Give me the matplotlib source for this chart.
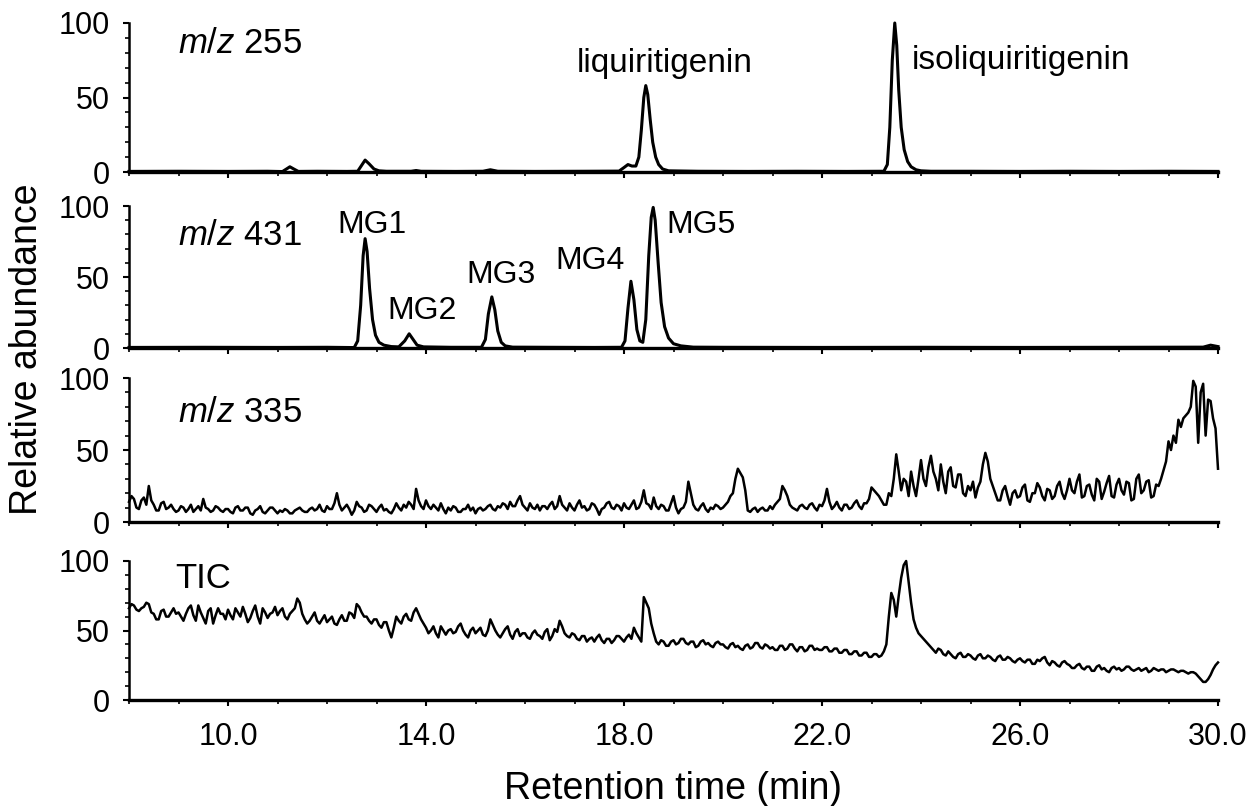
import numpy as np
import matplotlib.pyplot as plt
from matplotlib.ticker import MultipleLocator

plt.rcParams['font.family'] = 'Liberation Sans'
plt.rcParams['mathtext.fontset'] = 'custom'
plt.rcParams['mathtext.rm'] = 'Liberation Sans'
plt.rcParams['mathtext.it'] = 'Liberation Sans:italic'

# m/z 255 extracted ion chromatogram
time_255 = [8.0, 9.0, 10.0, 10.8, 11.1, 11.18, 11.25, 11.33, 11.42, 11.8, 12.4,
            12.62, 12.7, 12.77, 12.85, 12.95, 13.05, 13.2, 13.7, 13.8, 13.9, 14.6,
            15.15, 15.3, 15.45, 16.2, 17.2, 17.9,
            18.0, 18.08, 18.16, 18.24, 18.3, 18.35, 18.4, 18.44, 18.48, 18.53, 18.58,
            18.64, 18.7, 18.78, 18.9, 19.5, 20.5, 21.5, 22.5,
            23.25, 23.32, 23.37, 23.42, 23.47, 23.51, 23.55, 23.6, 23.66, 23.73, 23.8,
            23.9, 24.0, 24.2, 25.0, 26.0, 27.0, 28.0, 29.0, 30.0]
abund_255 = [0.4, 0.5, 0.4, 0.5, 0.3, 2, 3.5, 2, 0.4, 0.5, 0.4,
             0.5, 4.5, 8, 5.5, 2, 0.8, 0.5, 0.5, 1, 0.5, 0.4,
             0.5, 1.5, 0.5, 0.4, 0.5, 0.6,
             3, 5, 4, 4, 10, 28, 50, 58, 52, 35, 20,
             10, 5, 2, 0.8, 0.5, 0.4, 0.5, 0.4,
             0.5, 5, 30, 75, 100, 85, 55, 30, 15, 7, 3.5,
             1.5, 0.8, 0.5, 0.5, 0.4, 0.5, 0.4, 0.5, 0.4]

# m/z 431 extracted ion chromatogram (MG1 - MG5)
time_431 = [8.0, 9.5, 11.0, 12.0,
            12.55, 12.62, 12.68, 12.73, 12.77, 12.81, 12.86, 12.92, 12.98, 13.05, 13.15, 13.3, 13.45,
            13.57, 13.66, 13.74, 13.82, 13.95, 14.5,
            15.12, 15.2, 15.26, 15.33, 15.39, 15.45, 15.52, 15.6, 15.75, 16.5, 17.4,
            17.95, 18.02, 18.08, 18.14, 18.2, 18.26, 18.32, 18.38, 18.44, 18.5, 18.55, 18.59,
            18.63, 18.69, 18.75, 18.82, 18.9, 19.0, 19.15, 19.4,
            20.0, 22.0, 24.0, 26.0, 28.0, 29.7, 29.85, 30.0]
abund_431 = [0.4, 0.5, 0.4, 0.5,
             0.3, 5, 30, 65, 77, 68, 42, 20, 9, 4, 2, 1, 0.8,
             5, 10, 6, 2, 0.8, 0.5,
             0.5, 6, 24, 36, 27, 12, 4, 1.5, 0.6, 0.5, 0.4,
             0.5, 5, 28, 47, 34, 13, 5, 4, 20, 65, 92, 99,
             90, 60, 32, 15, 7, 3, 1.5, 0.6,
             0.5, 0.4, 0.5, 0.4, 0.5, 0.6, 2, 1]

# scan grid for the noisy traces, 0.05 min steps from 8.0 to 30.0
scan_time = np.round(np.arange(8.0, 30.025, 0.05), 2)

# one row per minute (20 scans)
abund_335 = [
    14, 18, 16, 10, 9, 15, 17, 12, 25, 15, 12, 8, 8, 13, 14, 9, 10, 12, 9, 7,          # 8
    8, 11, 10, 7, 9, 12, 7, 9, 11, 8, 16, 10, 9, 7, 8, 11, 10, 8, 7, 9,               # 9
    9, 7, 6, 10, 11, 8, 8, 10, 10, 6, 5, 8, 9, 11, 7, 6, 8, 10, 10, 8,                # 10
    6, 8, 7, 9, 8, 6, 6, 8, 9, 10, 8, 7, 7, 9, 10, 8, 9, 12, 8, 7,                    # 11
    11, 9, 9, 13, 20, 12, 8, 10, 12, 9, 5, 8, 14, 11, 10, 7, 8, 12, 11, 9,            # 12
    7, 10, 12, 8, 9, 7, 6, 9, 13, 10, 8, 12, 10, 14, 12, 9, 23, 15, 11, 9,            # 13
    15, 11, 9, 12, 10, 8, 13, 9, 6, 10, 8, 11, 10, 7, 7, 9, 9, 12, 8, 10,             # 14
    6, 9, 10, 8, 9, 11, 12, 9, 8, 11, 10, 13, 12, 9, 14, 11, 11, 15, 18, 12,          # 15
    10, 8, 13, 10, 9, 12, 8, 11, 11, 9, 12, 14, 9, 11, 18, 12, 10, 8, 13, 10,         # 16
    8, 12, 15, 10, 11, 8, 9, 13, 12, 9, 5, 9, 10, 13, 14, 10, 9, 12, 11, 8,           # 17
    13, 10, 9, 12, 15, 9, 10, 14, 22, 13, 12, 9, 17, 11, 9, 12, 11, 8, 8, 13,         # 18
    18, 10, 6, 9, 10, 14, 28, 20, 12, 9, 8, 11, 13, 9, 7, 10, 9, 12, 11, 9,           # 19
    10, 12, 14, 18, 20, 30, 37, 34, 31, 22, 8, 7, 9, 10, 7, 9, 10, 8, 8, 11,          # 20
    9, 12, 14, 16, 25, 22, 18, 12, 10, 9, 8, 11, 12, 10, 9, 12, 13, 10, 8, 12,        # 21
    11, 15, 23, 14, 9, 11, 14, 10, 8, 12, 12, 9, 10, 13, 15, 11, 9, 13, 13, 16,       # 22
    24, 22, 20, 18, 15, 12, 12, 20, 18, 30, 47, 35, 22, 30, 28, 18, 35, 25, 18, 30,   # 23
    43, 30, 25, 38, 46, 35, 30, 22, 40, 28, 20, 35, 38, 25, 24, 33, 33, 20, 18, 25,   # 24
    22, 28, 17, 24, 28, 40, 48, 42, 30, 25, 20, 15, 15, 22, 25, 18, 12, 20, 22, 17,   # 25
    18, 24, 26, 15, 14, 20, 20, 27, 24, 18, 15, 23, 22, 16, 18, 25, 28, 20, 16, 22,   # 26
    30, 22, 20, 28, 33, 17, 18, 25, 26, 19, 15, 30, 28, 16, 21, 27, 32, 18, 17, 26,   # 27
    30, 22, 19, 28, 27, 15, 16, 30, 33, 20, 22, 28, 29, 17, 18, 26, 25, 30, 36, 42,   # 28
    56, 50, 60, 55, 71, 66, 72, 74, 76, 80, 98, 94, 55, 90, 96, 60, 85, 84, 72, 65,   # 29
    37]

abund_tic = [
    66, 69, 68, 65, 64, 66, 67, 70, 69, 63, 62, 58, 58, 64, 65, 60, 60, 63, 66, 62,   # 8
    63, 60, 57, 62, 66, 68, 61, 57, 68, 63, 59, 55, 64, 66, 55, 61, 66, 62, 62, 58,   # 9
    65, 61, 58, 66, 63, 60, 67, 62, 56, 59, 64, 68, 60, 55, 66, 63, 59, 62, 63, 67,   # 10
    61, 64, 66, 60, 58, 62, 64, 66, 73, 70, 62, 58, 55, 57, 60, 63, 57, 55, 58, 61,   # 11
    56, 58, 60, 55, 54, 58, 61, 57, 57, 63, 62, 59, 69, 67, 63, 60, 60, 57, 55, 58,   # 12
    58, 54, 52, 56, 56, 50, 45, 52, 60, 57, 55, 60, 62, 58, 57, 63, 66, 62, 58, 55,   # 13
    52, 48, 50, 53, 48, 45, 53, 50, 47, 50, 51, 48, 49, 53, 55, 50, 47, 45, 50, 52,   # 14
    48, 50, 52, 47, 46, 50, 58, 54, 50, 47, 45, 48, 51, 53, 47, 44, 49, 51, 46, 48,   # 15
    48, 45, 44, 48, 50, 47, 46, 44, 49, 51, 43, 46, 51, 49, 57, 53, 48, 46, 45, 48,   # 16
    47, 44, 43, 46, 46, 42, 44, 45, 42, 45, 47, 43, 41, 44, 44, 41, 43, 46, 46, 44,   # 17
    42, 45, 47, 44, 52, 48, 45, 42, 74, 70, 66, 55, 48, 42, 40, 43, 42, 39, 39, 42,   # 18
    43, 40, 41, 44, 44, 41, 40, 42, 42, 38, 39, 42, 43, 40, 41, 39, 38, 41, 42, 40,   # 19
    40, 38, 37, 40, 41, 38, 39, 37, 36, 39, 40, 37, 38, 41, 41, 38, 37, 40, 39, 37,   # 20
    38, 36, 36, 39, 39, 36, 37, 40, 40, 37, 35, 38, 38, 35, 36, 39, 39, 36, 37, 36,   # 21
    36, 38, 38, 35, 35, 37, 37, 34, 34, 36, 36, 33, 33, 35, 35, 32, 32, 34, 34, 31,   # 22
    31, 33, 33, 31, 32, 35, 40, 60, 77, 72, 60, 75, 88, 97, 100, 85, 70, 58, 52, 48,  # 23
    46, 44, 42, 40, 38, 36, 34, 37, 36, 33, 32, 35, 33, 31, 30, 33, 34, 31, 31, 33,   # 24
    32, 30, 29, 32, 33, 30, 30, 32, 31, 29, 28, 31, 32, 29, 29, 31, 30, 28, 27, 29,   # 25
    30, 28, 27, 29, 29, 26, 26, 29, 28, 30, 31, 27, 25, 28, 27, 25, 24, 27, 28, 26,   # 26
    25, 23, 23, 25, 26, 23, 22, 24, 24, 21, 21, 24, 25, 22, 23, 21, 20, 23, 24, 22,   # 27
    23, 21, 22, 24, 24, 22, 21, 22, 23, 21, 22, 23, 20, 21, 23, 22, 21, 22, 22, 20,   # 28
    21, 22, 22, 21, 20, 21, 21, 20, 19, 20, 20, 19, 17, 15, 13, 13, 15, 18, 22, 25,   # 29
    27]

x_ticks = [10, 14, 18, 22, 26, 30]

# panel rectangles in figure pixels: (top, bottom)
panel_px = [(23, 172), (206, 348), (378, 522), (561, 700)]
left_px, right_px = 129, 1218
W, H = 1249, 806


def style_panel(ax, show_xlabels):
    ax.set_xlim(8, 30)
    ax.set_ylim(0, 100)
    for side in ['top', 'right']:
        ax.spines[side].set_visible(False)
    ax.spines['bottom'].set_linewidth(2.4)
    ax.spines['left'].set_linewidth(1.8)
    ax.set_xticks(x_ticks)
    ax.xaxis.set_minor_locator(MultipleLocator(1))
    ax.set_yticks([0, 50, 100])
    ax.yaxis.set_minor_locator(MultipleLocator(10))
    ax.tick_params(axis='both', which='major', direction='out', length=4, width=1.5,
                   labelsize=22)
    ax.tick_params(axis='both', which='minor', direction='out', length=3, width=1.2)
    ax.tick_params(axis='y', pad=9.5)
    ax.tick_params(axis='x', pad=12)
    if show_xlabels:
        ax.set_xticklabels([f'{v:.1f}' for v in x_ticks])
    else:
        ax.set_xticklabels([])


fig = plt.figure(figsize=(W / 100, H / 100), dpi=100)
axes = []
for i, (top, bot) in enumerate(panel_px):
    ax = fig.add_axes([left_px / W, 1 - bot / H, (right_px - left_px) / W, (bot - top) / H])
    style_panel(ax, i == 3)
    axes.append(ax)

ax1, ax2, ax3, ax4 = axes
ax1.plot(time_255, abund_255, color='black', lw=2.2, clip_on=False)
ax2.plot(time_431, abund_431, color='black', lw=2.2, clip_on=False)
ax3.plot(scan_time, abund_335, color='black', lw=1.8, clip_on=False)
ax4.plot(scan_time, abund_tic, color='black', lw=1.8, clip_on=False)

title_fs = 25
ax1.text(8.99, 80, r'$\it{m/z}$ 255', fontsize=title_fs, va='baseline')
ax2.text(8.99, 72.5, r'$\it{m/z}$ 431', fontsize=title_fs, va='baseline')
ax3.text(8.99, 69.5, r'$\it{m/z}$ 335', fontsize=title_fs, va='baseline')
ax4.text(8.93, 80.5, 'TIC', fontsize=title_fs, va='baseline')

ax1.text(18.83, 67, 'liquiritigenin', fontsize=24, va='baseline', ha='center')
ax1.text(23.82, 69, 'isoliquiritigenin', fontsize=24, va='baseline', ha='left')

mg_fs = 23
ax2.text(12.91, 81, 'MG1', fontsize=mg_fs, va='baseline', ha='center')
ax2.text(13.92, 20.5, 'MG2', fontsize=mg_fs, va='baseline', ha='center')
ax2.text(15.52, 46, 'MG3', fontsize=mg_fs, va='baseline', ha='center')
ax2.text(17.31, 55.5, 'MG4', fontsize=mg_fs, va='baseline', ha='center')
ax2.text(19.56, 81, 'MG5', fontsize=mg_fs, va='baseline', ha='center')

fig.text(27 / W, 1 - 349 / H, 'Relative abundance', rotation=90, fontsize=27,
         ha='center', va='center')
fig.text((left_px + right_px) / 2 / W, 1 - 799 / H, 'Retention time (min)', fontsize=27,
         ha='center', va='baseline')

fig.savefig('out.png', dpi=100)
